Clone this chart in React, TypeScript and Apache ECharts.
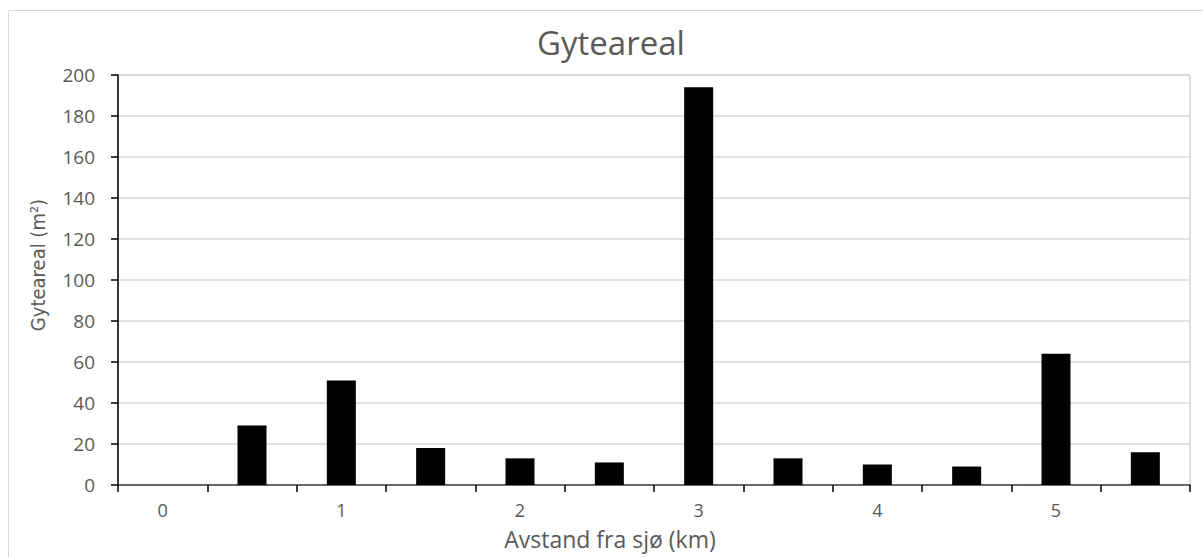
import React, { useEffect, useRef } from "react";
import * as echarts from "echarts";

const categories = ["0", "0.5", "1", "1.5", "2", "2.5", "3", "3.5", "4", "4.5", "5", "5.5"];
const values = [0, 29, 51, 18, 13, 11, 194, 13, 10, 9, 64, 16];
const titleText = "Gyteareal";
const xName = "Avstand fra sjø (km)";
const yName = "Gyteareal (m²)";

export default function App() {
  const ref = useRef<HTMLDivElement>(null);
  useEffect(() => {
    const chart = echarts.init(ref.current!, null, { renderer: "svg" });
    chart.setOption({
      animation: false,
      backgroundColor: "#ffffff",
      title: {
        text: titleText,
        left: 537,
        top: 26,
        padding: 0,
        textStyle: { fontFamily: "Open Sans", fontSize: 33, fontWeight: "normal", color: "#595959" },
      },
      graphic: [
        {
          type: "rect",
          shape: { x: 8.5, y: 10.5, width: 1210, height: 560 },
          style: { fill: "none", stroke: "#d9d9d9", lineWidth: 1 },
          silent: true,
        },
      ],
      grid: {
        left: 118,
        right: 13,
        top: 75,
        bottom: 72,
        show: true,
        borderColor: "#bfbfbf",
        borderWidth: 1,
      },
      xAxis: {
        type: "category",
        data: categories,
        name: xName,
        nameLocation: "middle",
        nameGap: 42,
        nameTextStyle: { fontFamily: "Open Sans", fontSize: 23, lineHeight: 24, color: "#595959", padding: [0, 88, 0, 0] },
        axisLine: { show: true, lineStyle: { color: "#404040", width: 1.5 } },
        axisTick: { show: true, interval: 0, alignWithLabel: false, length: 7, lineStyle: { color: "#000", width: 1.5 } },
        axisLabel: { interval: 1, margin: 16, fontFamily: "Open Sans", fontSize: 18, lineHeight: 18, color: "#595959" },
        splitLine: { show: false },
      },
      yAxis: {
        type: "value",
        min: 0,
        max: 200,
        interval: 20,
        name: yName,
        nameLocation: "middle",
        nameGap: 70,
        nameTextStyle: {
          fontFamily: "'Liberation Sans Narrow', 'DejaVu Sans Condensed', sans-serif",
          fontSize: 20,
          color: "#595959",
          padding: [0, 0, 0, 30],
        },
        axisLine: { show: true, lineStyle: { color: "#000", width: 1.5 } },
        axisTick: { show: true, length: 7, lineStyle: { color: "#000", width: 1.5 } },
        axisLabel: { margin: 23, fontFamily: "Open Sans", fontSize: 19, color: "#595959" },
        splitLine: { show: true, lineStyle: { color: "#d9d9d9", width: 1.5 } },
      },
      series: [
        {
          type: "bar",
          data: values,
          barWidth: 29,
          itemStyle: { color: "#000000" },
        },
      ],
    });
    return () => chart.dispose();
  }, []);
  return <div ref={ref} style={{ position: "absolute", left: 0, top: 0, width: 1203, height: 557 }} />;
}
